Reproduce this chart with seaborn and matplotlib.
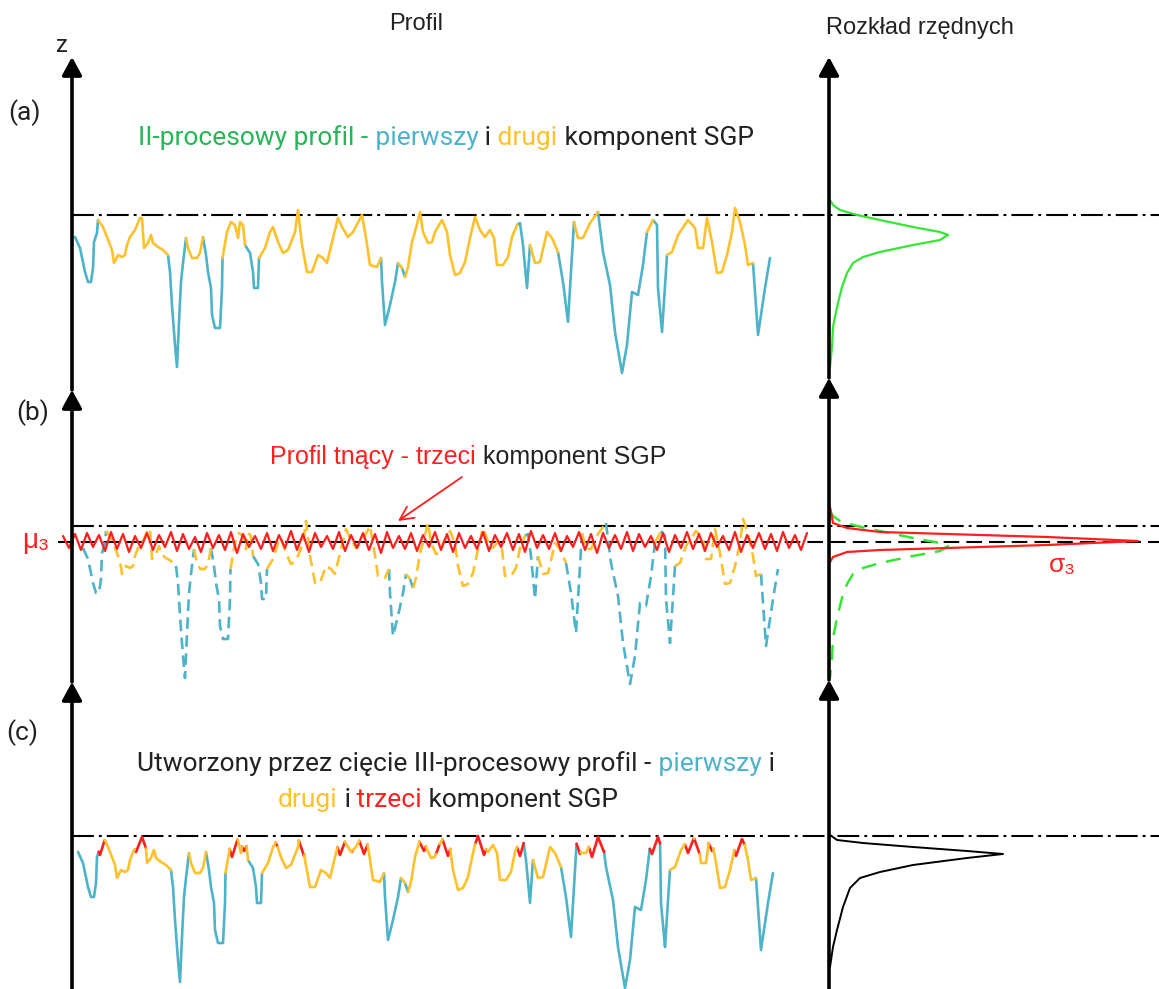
import numpy as np
import pandas as pd
import matplotlib
matplotlib.use("Agg")
import matplotlib.pyplot as plt
import seaborn as sns

# ---------------- data ----------------
# two-process profile (first + second SGP component): position, height, component of following segment
profile_x = [0, 5, 10, 13, 16, 18, 19, 22, 23, 28, 32, 37, 39, 43, 47, 50, 52, 55, 60, 65,
             67, 69, 73, 76, 78, 83, 88, 93, 95, 97, 100, 102, 104, 106, 108, 111, 113, 117, 122, 125,
             128, 131, 133, 136, 137, 140, 145, 147, 147.5, 152, 156, 160, 163, 165, 168, 170, 175, 178, 179, 183,
             184, 190, 195, 198, 203, 208, 213, 220, 223, 227, 232, 237, 243, 248, 252, 257, 263, 267, 273, 278,
             287, 291, 295, 302, 306, 307, 310, 315, 320, 323, 327, 330, 333, 337, 341, 345, 348, 353, 357, 360,
             367, 372, 375, 380, 385, 390, 395, 400, 405, 410, 415, 419, 422, 428, 433, 437, 442, 445, 448, 452,
             455, 460, 465, 472, 477, 483, 488, 493, 497, 499, 503, 508, 515, 523, 528, 535, 540, 547, 552, 557,
             563, 568, 572, 578, 582, 583, 587, 592, 597, 603, 613, 620, 623, 628, 632, 637, 642, 647, 652, 657,
             660, 665, 670, 673, 678, 683, 690, 695]
profile_z = [-22, -33, -57, -67, -67, -53, -27, -18, -5, -12, -22, -35, -48, -40, -42, -40, -30, -22, -15, -3,
             -3, -33, -28, -20, -28, -32, -35, -40, -57, -90, -130, -152, -107, -67, -48, -23, -33, -43, -43, -38,
             -22, -40, -57, -73, -100, -113, -113, -73, -43, -17, -7, -10, -23, -7, -10, -30, -38, -57, -73, -73,
             -43, -33, -17, -12, -27, -38, -35, -17, 5, -30, -57, -57, -40, -43, -48, -27, -3, -12, -22, -17,
             0, -23, -50, -52, -43, -67, -110, -90, -67, -48, -53, -62, -52, -27, -13, 3, -17, -28, -27, -17,
             -5, -17, -40, -60, -58, -47, -23, -2, -15, -22, -15, -23, -50, -50, -42, -22, -10, -8, -30, -73,
             -30, -48, -47, -17, -23, -37, -67, -107, -40, -7, -23, -23, -8, 3, -37, -70, -117, -158, -130, -77,
             -80, -50, -17, -5, -10, -73, -117, -40, -37, -20, -5, -13, -33, -33, -3, -27, -58, -57, -40, -17,
             7, -7, -30, -50, -48, -120, -73, -43]
profile_comp = ([1] * 8 + [2] * 19 + [1] * 8 + [2] * 5 + [1] * 8 + [2] * 7 + [1] * 5 + [2] * 24
                + [1] * 5 + [2] * 1 + [1] * 1 + [2] * 25 + [1] * 4 + [2] * 5 + [1] * 4 + [2] * 4
                + [1] * 9 + [2] * 1 + [1] * 4 + [2] * 17 + [1] * 4)

# cutting profile (third SGP component), sampled every 6 units
cut_z = [-10, -22, -8, -24, -7, -21, -9, -25, -6, -23,
         -8, -26, -10, -22, -7, -24, -9, -21, -6, -25,
         -8, -23, -11, -26, -7, -22, -9, -24, -6, -27,
         -8, -21, -10, -23, -7, -25, -9, -22, -5, -24,
         -8, -26, -7, -21, -10, -23, -6, -25, -9, -22,
         -7, -24, -8, -27, -6, -22, -10, -23, -7, -25,
         -9, -21, -6, -24, -8, -26, -7, -22, -10, -23,
         -6, -25, -9, -21, -7, -24, -8, -26, -5, -22,
         -9, -23, -7, -25, -10, -21, -6, -24, -8, -27,
         -7, -22, -9, -23, -6, -25, -8, -21, -10, -24,
         -7, -26, -9, -22, -6, -23, -8, -25, -7, -21,
         -10, -24, -6, -26, -9, -22, -7, -23, -8, -25,
         -6, -22, -9, -24, -7]
cut_x = np.arange(-20, -20 + 6 * len(cut_z), 6)

# ordinate distributions (height, density)
dist12_z = [15, 10, 5, 0, -5, -12, -17, -20, -25, -30, -37, -42, -48, -58, -72, -92, -112, -132, -152]
dist12_d = [1, 4, 11, 28, 51, 84, 111, 119, 111, 84, 51, 34, 24, 18, 13, 8, 4, 3, 1]
dist3_z = [19, 3, -2, -6, -8, -11, -15, -19, -22, -24, -26, -31, -36]
dist3_d = [1, 4, 18, 51, 118, 218, 309, 218, 118, 51, 18, 4, 1]
dist123_z = [1, -4, -7, -11, -15, -18, -22, -29, -36, -42, -52, -71, -94, -111, -131]
dist123_d = [1, 8, 34, 84, 138, 174, 138, 84, 51, 31, 21, 14, 8, 4, 1]

TEAL = "#4db3c9"
YELLOW = "#fcc12d"
RED = "#ff1f1f"
GREEN_TXT = "#27b556"
GREEN = "#35e635"
PAL = {"p1": TEAL, "p2": YELLOW, "p3": RED}
CNAME = {1: "p1", 2: "p2", 3: "p3"}

sns.set_theme(style="white")
plt.rcParams["font.family"] = ["Roboto", "DejaVu Sans"]

W, H = 1159, 989
fig = plt.figure(figsize=(W / 100, H / 100), dpi=100)
fig.patch.set_facecolor("white")


def canvas():
    ax = fig.add_axes([0, 0, 1, 1])
    ax.set_xlim(0, W)
    ax.set_ylim(H, 0)
    ax.set_axis_off()
    return ax


def panel(left, top, right, bottom, x0, y0):
    ax = fig.add_axes([left / W, 1 - bottom / H, (right - left) / W, (bottom - top) / H])
    ax.set_xlim(left - x0, right - x0)
    ax.set_ylim(y0 - bottom, y0 - top)
    ax.set_axis_off()
    return ax


def seg_frame(xs, zs, comps):
    rows = []
    n = len(xs)
    start = 0
    seg = 0
    for i in range(1, n):
        if i == n - 1 or comps[i] != comps[start]:
            for j in range(start, i + 1):
                rows.append({"seg": seg, "comp": CNAME[comps[start]], "x": xs[j], "z": zs[j]})
            seg += 1
            start = i
    return pd.DataFrame(rows)


px = np.array(profile_x, float)
pz = np.array(profile_z, float)
pc = np.array(profile_comp)

df_ab = seg_frame(px, pz, pc)

# three-process profile: the cutting profile truncates the two-process profile
xs = np.union1d(px, cut_x[(cut_x > px[0]) & (cut_x < px[-1])].astype(float))
d = np.interp(xs, px, pz) - np.interp(xs, cut_x, cut_z)
cross = [xs[k] + d[k] / (d[k] - d[k + 1]) * (xs[k + 1] - xs[k])
         for k in range(len(xs) - 1) if d[k] * d[k + 1] < 0]
xs = np.union1d(xs, cross)
zo = np.interp(xs, px, pz)
zcut = np.interp(xs, cut_x, cut_z)
zc = np.minimum(zo, zcut)
mids = (xs[:-1] + xs[1:]) / 2
mid_cut = np.interp(mids, cut_x, cut_z) < np.interp(mids, px, pz)
idx = np.clip(np.searchsorted(px, mids) - 1, 0, len(px) - 1)
cc = np.where(mid_cut, 3, pc[idx])
cc = np.append(cc, cc[-1])
df_c = seg_frame(xs, zc, cc)

# ---------------- under-layer canvas: guide lines ----------------
bg = canvas()
DASHDOT = (0, (10.5, 2.4, 1.4, 2.4))
for yl in (215, 526, 836):
    bg.plot([72, W], [yl, yl], color="black", lw=1.5, linestyle=DASHDOT, zorder=5)
bg.plot([58, W], [542, 542], color="black", lw=1.5, linestyle=(0, (7.5, 3.4)), zorder=5)

# ---------------- profiles ----------------
ax_a = panel(40, 150, 820, 400, 75, 215)
sns.lineplot(data=df_ab, x="x", y="z", hue="comp", units="seg", estimator=None, palette=PAL,
             sort=False, legend=False, lw=1.9, ax=ax_a)

ax_b = panel(40, 470, 830, 710, 83, 526)
sns.lineplot(data=df_ab, x="x", y="z", hue="comp", units="seg", estimator=None, palette=PAL,
             sort=False, legend=False, lw=1.9, linestyle=(0, (4.4, 2.4)), ax=ax_b)
sns.lineplot(x=cut_x, y=cut_z, color=RED, lw=1.6, sort=False, estimator=None, ax=ax_b)

ax_c = panel(40, 790, 820, 989, 78, 830)
sns.lineplot(data=df_c, x="x", y="z", hue="comp", units="seg", estimator=None, palette=PAL,
             sort=False, legend=False, lw=1.9, ax=ax_c)
for a in (ax_a, ax_b, ax_c):
    for ln in a.get_lines():
        ln.set_clip_on(False)
    a.set_axis_off()

# ---------------- distributions ----------------
dx_a = panel(800, 40, W, 390, 829, 215)
sns.lineplot(x=dist12_d, y=dist12_z, sort=False, estimator=None, color=GREEN, lw=1.6, ax=dx_a)
dx_b = panel(800, 380, W, 690, 829, 526)
sns.lineplot(x=dist12_d, y=dist12_z, sort=False, estimator=None, color=GREEN, lw=1.8,
             linestyle=(0, (6, 4)), ax=dx_b)
sns.lineplot(x=dist3_d, y=dist3_z, sort=False, estimator=None, color=RED, lw=1.6, ax=dx_b)
dx_c = panel(800, 690, W, 989, 829, 836)
sns.lineplot(x=dist123_d, y=dist123_z, sort=False, estimator=None, color="black", lw=1.4, ax=dx_c)
for a in (dx_a, dx_b, dx_c):
    a.set_axis_off()

# ---------------- over-layer canvas: axes arrows and texts ----------------
top = canvas()
AST = "-|>,head_length=0.55,head_width=0.3"
for xa, tips, tails in ((72, (57, 390, 682), (390, 682, H + 5)),
                        (829, (57, 378, 680), (378, 680, H + 5))):
    for tp, tl in zip(tips, tails):
        top.annotate("", xy=(xa, tp), xytext=(xa, tl),
                     arrowprops=dict(arrowstyle=AST, lw=2.6, color="black", mutation_scale=20,
                                     shrinkA=0, shrinkB=0))

top.annotate("", xy=(398, 521), xytext=(462, 477),
             arrowprops=dict(arrowstyle="->,head_length=0.7,head_width=0.35", lw=1.3, color=RED,
                             mutation_scale=14, shrinkA=0, shrinkB=0))

ROB = ["Roboto", "DejaVu Sans"]
LIB = ["Liberation Sans", "DejaVu Sans"]
K = "#222222"
top.text(416, 24, "Profil", fontsize=17, family=LIB, ha="center", va="center", color=K)
top.text(920, 28, "Rozkład rzędnych", fontsize=17, family=LIB, ha="center", va="center", color=K)
top.text(62, 46, "z", fontsize=17, family=ROB, ha="center", va="center", color=K)
top.text(24, 113, "(a)", fontsize=19, family=ROB, ha="center", va="center", color=K)
top.text(33, 413, "(b)", fontsize=19, family=ROB, ha="center", va="center", color=K)
top.text(22, 733, "(c)", fontsize=19, family=ROB, ha="center", va="center", color=K)
top.text(36, 541, "μ₃", fontsize=20, family=LIB + ["DejaVu Sans"], ha="center", va="center", color=RED)
top.text(1062, 565, "σ₃", fontsize=19, family=LIB + ["DejaVu Sans"], ha="center", va="center", color=RED)


def rainbow(ax, y, pieces, size, family):
    t = ax.text(0, y, pieces[0][0], color=pieces[0][1], fontsize=size, family=family,
                ha="left", va="center")
    texts = [t]
    for s, c in pieces[1:]:
        t = ax.annotate(s, xy=(1, 0), xycoords=t, ha="left", va="bottom", color=c,
                        fontsize=size, family=family)
        texts.append(t)
    return texts


groups = [
    (446, rainbow(top, 138, [("II-procesowy profil -", GREEN_TXT), (" pierwszy", TEAL), (" i", K),
                             (" drugi", YELLOW), (" komponent SGP", K)], 19, ROB)),
    (468, rainbow(top, 457, [("Profil tnący - trzeci", RED), (" komponent SGP", K)], 18, LIB)),
    (456, rainbow(top, 764, [("Utworzony przez cięcie III-procesowy profil -", K), (" pierwszy", TEAL),
                             (" i", K)], 19, ROB)),
    (448, rainbow(top, 800, [("drugi", YELLOW), (" i", K), (" trzeci", RED), (" komponent SGP", K)], 19, ROB)),
]
fig.canvas.draw()
r = fig.canvas.get_renderer()
for xc, texts in groups:
    x1 = texts[0].get_window_extent(r).x0
    x2 = texts[-1].get_window_extent(r).x1
    texts[0].set_x(xc - (x2 - x1) / 2)

fig.savefig("out.png", dpi=100, facecolor="white")
